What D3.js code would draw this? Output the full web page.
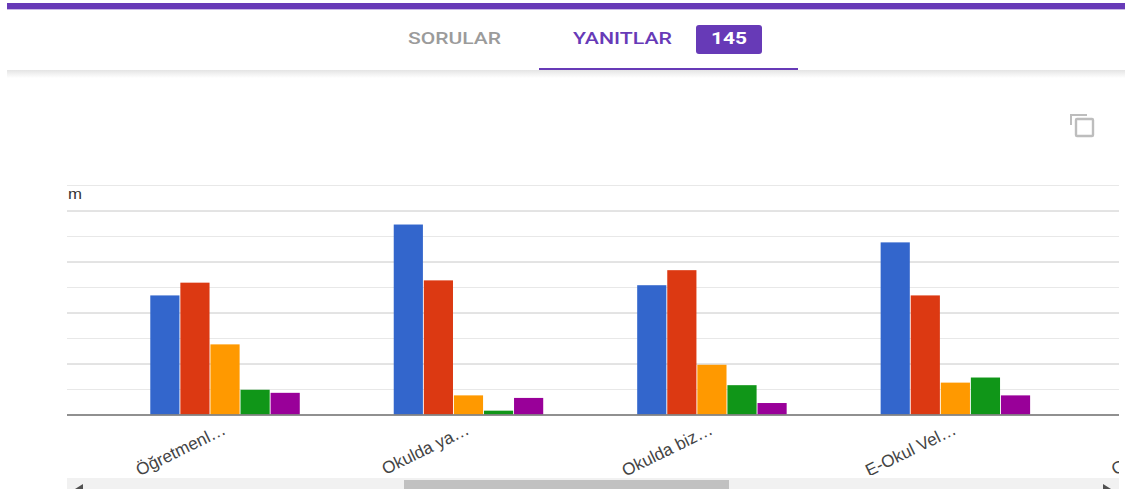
<!DOCTYPE html>
<html>
<head>
<meta charset="utf-8">
<script src="https://cdnjs.cloudflare.com/ajax/libs/d3/7.8.5/d3.min.js"></script>
<style>
  html, body { margin: 0; padding: 0; background: #fff; overflow: hidden; }
  svg { display: block; }
</style>
</head>
<body>
<svg width="1125" height="489"></svg>
<script>
// Values
const categories = ["Öğretmenl…", "Okulda ya…", "Okulda biz…", "E-Okul Vel…", "Okulda bu…"];
const seriesNames = ["s1", "s2", "s3", "s4", "s5"];
const colors = ["#3366cc", "#dc3912", "#ff9900", "#109618", "#990099"];
const s1 = [46.7, 74.5, 50.7, 67.5];
const s2 = [51.7, 52.6, 56.6, 46.7];
const s3 = [27.5, 7.5, 19.5, 12.5];
const s4 = [9.7, 1.5, 11.5, 14.5];
const s5 = [8.5, 6.5, 4.5, 7.5];
const allSeries = [s1, s2, s3, s4, s5];
const gridTicks = [0, 10, 20, 30, 40, 50, 60, 70, 80, 90];
const purple = "#673ab7";

const svg = d3.select("svg");

// Scales
const left = 67, right = 1119, base = 414.5;
const x0 = d3.scaleBand()
    .domain(categories)
    .range([103.3, 103.3 + 243.45 * categories.length])
    .paddingInner(0.386)
    .paddingOuter(0.193);
const x1 = d3.scaleBand()
    .domain(seriesNames)
    .range([0, x0.bandwidth()])
    .paddingInner(0.03);
const y = d3.scaleLinear().domain([0, 90]).range([base, 185]);

svg.append("clipPath").attr("id", "plot")
    .append("rect").attr("x", left).attr("y", 170).attr("width", right - left).attr("height", 305);

// Header
const shadow = svg.append("defs").append("linearGradient")
    .attr("id", "shadow").attr("x1", 0).attr("x2", 0).attr("y1", 0).attr("y2", 1);
shadow.append("stop").attr("offset", 0).attr("stop-color", "#e4e4e4");
shadow.append("stop").attr("offset", 1).attr("stop-color", "#ffffff");

svg.append("rect").attr("x", 7).attr("y", 70).attr("width", 1118).attr("height", 8).attr("fill", "url(#shadow)");
svg.append("rect").attr("x", 7).attr("y", 3).attr("width", 1118).attr("height", 6).attr("fill", purple);
svg.append("rect").attr("x", 7).attr("y", 9).attr("width", 1118).attr("height", 1).attr("fill", "#c9b8e6");

const tabFont = "Roboto, Arial, sans-serif";
svg.append("text").attr("x", 408).attr("y", 44)
    .attr("font-family", tabFont).attr("font-weight", 500).attr("font-size", 16.5)
    .attr("textLength", 93).attr("lengthAdjust", "spacingAndGlyphs")
    .attr("fill", "#9b9b9b").text("SORULAR");
svg.append("text").attr("x", 573).attr("y", 44)
    .attr("font-family", tabFont).attr("font-weight", 500).attr("font-size", 16.5)
    .attr("textLength", 99).attr("lengthAdjust", "spacingAndGlyphs")
    .attr("fill", purple).text("YANITLAR");
svg.append("rect").attr("x", 696).attr("y", 25).attr("width", 66).attr("height", 29).attr("rx", 3).attr("fill", purple);
svg.append("text").attr("x", 711).attr("y", 44)
    .attr("font-family", tabFont).attr("font-weight", 700).attr("font-size", 16.5)
    .attr("textLength", 36).attr("lengthAdjust", "spacingAndGlyphs")
    .attr("fill", "#fff").text("145");
svg.append("rect").attr("x", 539).attr("y", 68).attr("width", 259).attr("height", 2).attr("fill", purple);

// Copy icon
svg.append("path").attr("d", "M1071 125V115H1087").attr("fill", "none").attr("stroke", "#bdbdbd").attr("stroke-width", 2);
svg.append("rect").attr("x", 1076).attr("y", 119).attr("width", 17).attr("height", 17).attr("rx", 1)
    .attr("fill", "none").attr("stroke", "#bdbdbd").attr("stroke-width", 2.4);

// Gridlines
const grid = svg.append("g").attr("transform", `translate(${left},0)`)
    .call(d3.axisLeft(y).tickValues(gridTicks).tickSize(-(right - left)).tickFormat(""));
grid.select(".domain").remove();
grid.selectAll(".tick line")
    .attr("stroke", d => d % 20 === 0 ? "#c8c8c8" : "#e8e8e8");

svg.append("text").attr("x", 68).attr("y", 199)
    .attr("font-family", "Arial, 'Liberation Sans', sans-serif").attr("font-size", 15)
    .attr("textLength", 14).attr("lengthAdjust", "spacingAndGlyphs")
    .attr("fill", "#333").text("m");

// Bars
const chart = svg.append("g").attr("clip-path", "url(#plot)");
allSeries.forEach((vals, s) => {
    chart.append("g").selectAll("rect")
        .data(vals)
        .enter()
        .append("rect")
        .attr("x", (d, i) => x0(categories[i]) + x1(seriesNames[s]))
        .attr("y", d => y(d))
        .attr("width", x1.bandwidth())
        .attr("height", d => y(0) - y(d))
        .attr("fill", colors[s]);
});

// Category axis
const xAxis = chart.append("g").attr("transform", `translate(0,${base})`)
    .call(d3.axisBottom(x0).tickSize(0));
xAxis.select(".domain")
    .attr("d", `M${left},0.5H${right}`)
    .attr("stroke", "#757575").attr("stroke-width", 1.6);
xAxis.selectAll("text")
    .attr("font-family", "Arial, 'Liberation Sans', sans-serif")
    .attr("font-size", 17.2)
    .attr("fill", "#444")
    .attr("text-anchor", "end")
    .attr("dy", 0)
    .attr("y", 0)
    .attr("transform", "translate(2,19) rotate(-26)");

// Scrollbar
svg.append("rect").attr("x", left).attr("y", 478).attr("width", right - left).attr("height", 11).attr("fill", "#f1f1f1");
svg.append("rect").attr("x", 404).attr("y", 480).attr("width", 325).attr("height", 9).attr("fill", "#c1c1c1");
svg.append("path").attr("d", "M83 484L75 489H83Z").attr("fill", "#505050");
svg.append("path").attr("d", "M1103 484L1111 489H1103Z").attr("fill", "#505050");
</script>
</body>
</html>
